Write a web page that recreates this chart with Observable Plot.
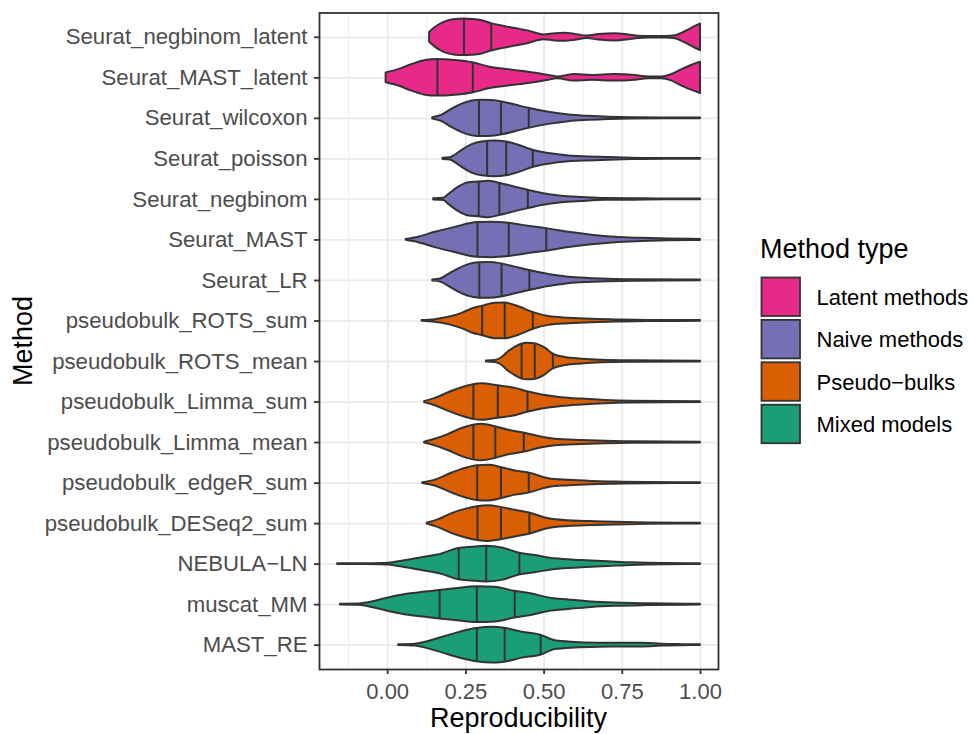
<!DOCTYPE html>
<html><head><meta charset="utf-8">
<script src="https://cdn.jsdelivr.net/npm/d3@7"></script>
<script src="https://cdn.jsdelivr.net/npm/@observablehq/plot@0.6"></script>
<style>
body{margin:0;background:#fff;}
#chart{position:relative;width:974px;height:734px;}
#chart svg{font-family:"Liberation Sans",Arial,sans-serif;}
</style></head><body><div id="chart"></div>
<script>
// Methods, top to bottom
const methods = ["Seurat_negbinom_latent","Seurat_MAST_latent","Seurat_wilcoxon","Seurat_poisson","Seurat_negbinom","Seurat_MAST","Seurat_LR","pseudobulk_ROTS_sum","pseudobulk_ROTS_mean","pseudobulk_Limma_sum","pseudobulk_Limma_mean","pseudobulk_edgeR_sum","pseudobulk_DESeq2_sum","NEBULA\u2212LN","muscat_MM","MAST_RE"];
const methodType = ["Latent methods","Latent methods","Naive methods","Naive methods","Naive methods","Naive methods","Naive methods","Pseudo\u2212bulks","Pseudo\u2212bulks","Pseudo\u2212bulks","Pseudo\u2212bulks","Pseudo\u2212bulks","Pseudo\u2212bulks","Mixed models","Mixed models","Mixed models"];
const typeNames = ["Latent methods","Naive methods","Pseudo\u2212bulks","Mixed models"];
const typeColors = ["#E7298A","#7570B3","#D95F02","#1B9E77"];
const xTicks = [0, 0.25, 0.5, 0.75, 1];
const xMinorTicks = [-0.125, 0.125, 0.375, 0.625, 0.875];

// Violin density profiles: [reproducibility, relative density]
const dens_Seurat_negbinom_latent = [[0.134,0.27],[0.153,0.55],[0.174,0.77],[0.195,0.91],[0.217,0.98],[0.244,1.0],[0.270,0.98],[0.302,0.91],[0.331,0.75],[0.366,0.62],[0.408,0.48],[0.451,0.34],[0.483,0.18],[0.499,0.13],[0.536,0.2],[0.568,0.22],[0.600,0.16],[0.638,0.07],[0.675,0.15],[0.728,0.2],[0.771,0.13],[0.803,0.06],[0.835,0.04],[0.888,0.04],[0.920,0.08],[0.941,0.22],[0.962,0.4],[0.984,0.6],[1.0,0.73]];
const dens_Seurat_MAST_latent = [[-0.005,0.27],[0.035,0.45],[0.078,0.73],[0.121,0.95],[0.159,1.0],[0.216,0.95],[0.272,0.83],[0.323,0.6],[0.387,0.45],[0.451,0.31],[0.515,0.13],[0.542,0.05],[0.600,0.18],[0.653,0.13],[0.728,0.18],[0.792,0.13],[0.835,0.05],[0.877,0.05],[0.909,0.18],[0.941,0.45],[0.973,0.69],[1.0,0.86]];
const dens_Seurat_wilcoxon = [[0.144,0.03],[0.174,0.18],[0.206,0.51],[0.238,0.78],[0.270,0.95],[0.302,1.0],[0.334,0.98],[0.366,0.9],[0.408,0.73],[0.451,0.55],[0.515,0.33],[0.579,0.18],[0.643,0.11],[0.707,0.06],[0.781,0.03],[0.888,0.02],[1.0,0.02]];
const dens_Seurat_poisson = [[0.177,0.03],[0.2,0.06],[0.216,0.2],[0.238,0.47],[0.270,0.78],[0.302,0.93],[0.344,0.98],[0.379,0.93],[0.419,0.75],[0.464,0.47],[0.515,0.29],[0.579,0.16],[0.643,0.11],[0.707,0.07],[0.781,0.04],[0.888,0.02],[1.0,0.02]];
const dens_Seurat_negbinom = [[0.147,0.03],[0.179,0.06],[0.195,0.27],[0.227,0.67],[0.259,0.91],[0.291,0.95],[0.323,1.0],[0.357,0.89],[0.408,0.67],[0.448,0.51],[0.494,0.33],[0.557,0.18],[0.621,0.11],[0.696,0.05],[0.781,0.04],[0.888,0.02],[1.0,0.02]];
const dens_Seurat_MAST = [[0.059,0.02],[0.099,0.15],[0.152,0.42],[0.216,0.69],[0.287,0.95],[0.334,0.97],[0.387,0.91],[0.451,0.75],[0.507,0.62],[0.579,0.42],[0.653,0.26],[0.728,0.15],[0.813,0.09],[0.899,0.05],[1.0,0.03]];
const dens_Seurat_LR = [[0.144,0.03],[0.169,0.08],[0.195,0.33],[0.227,0.64],[0.259,0.87],[0.293,0.97],[0.323,0.98],[0.364,0.91],[0.408,0.73],[0.453,0.55],[0.515,0.33],[0.579,0.18],[0.643,0.11],[0.707,0.07],[0.781,0.04],[1.0,0.02]];
const dens_pseudobulk_ROTS_sum = [[0.110,0.02],[0.152,0.07],[0.195,0.2],[0.238,0.42],[0.270,0.66],[0.302,0.8],[0.344,0.97],[0.374,0.98],[0.419,0.78],[0.464,0.47],[0.515,0.24],[0.579,0.15],[0.653,0.09],[0.728,0.06],[0.835,0.03],[1.0,0.02]];
const dens_pseudobulk_ROTS_mean = [[0.316,0.03],[0.344,0.06],[0.366,0.22],[0.387,0.55],[0.408,0.78],[0.428,0.95],[0.446,1.0],[0.470,0.98],[0.504,0.73],[0.528,0.42],[0.568,0.22],[0.621,0.13],[0.685,0.07],[0.781,0.04],[1.0,0.02]];
const dens_pseudobulk_Limma_sum = [[0.118,0.02],[0.152,0.2],[0.195,0.51],[0.238,0.78],[0.274,0.95],[0.302,1.0],[0.352,0.89],[0.408,0.75],[0.447,0.56],[0.494,0.38],[0.557,0.24],[0.621,0.16],[0.696,0.09],[0.781,0.05],[1.0,0.02]];
const dens_pseudobulk_Limma_mean = [[0.118,0.02],[0.152,0.18],[0.195,0.45],[0.238,0.77],[0.274,0.95],[0.302,1.0],[0.344,0.87],[0.387,0.67],[0.435,0.53],[0.483,0.33],[0.536,0.18],[0.621,0.11],[0.696,0.07],[0.781,0.04],[1.0,0.02]];
const dens_pseudobulk_edgeR_sum = [[0.112,0.02],[0.152,0.16],[0.195,0.47],[0.238,0.75],[0.286,0.95],[0.323,0.98],[0.362,0.86],[0.408,0.66],[0.451,0.55],[0.515,0.24],[0.579,0.15],[0.653,0.09],[0.728,0.06],[0.835,0.03],[1.0,0.02]];
const dens_pseudobulk_DESeq2_sum = [[0.126,0.02],[0.163,0.22],[0.206,0.55],[0.248,0.78],[0.287,0.93],[0.323,0.98],[0.362,0.89],[0.408,0.73],[0.453,0.58],[0.515,0.27],[0.579,0.16],[0.653,0.11],[0.728,0.07],[0.835,0.04],[1.0,0.02]];
const dens_NEBULA_LN = [[-0.160,0.02],[-0.071,0.02],[-0.018,0.03],[0.003,0.05],[0.046,0.16],[0.110,0.35],[0.174,0.56],[0.227,0.86],[0.270,0.93],[0.315,0.98],[0.366,0.89],[0.421,0.6],[0.472,0.47],[0.536,0.29],[0.621,0.2],[0.707,0.13],[0.781,0.07],[0.888,0.03],[1.0,0.02]];
const dens_muscat_MM = [[-0.151,0.02],[-0.093,0.03],[-0.061,0.11],[0.003,0.37],[0.067,0.58],[0.121,0.69],[0.166,0.78],[0.216,0.87],[0.285,0.98],[0.344,0.95],[0.406,0.73],[0.462,0.58],[0.515,0.37],[0.579,0.26],[0.653,0.15],[0.728,0.09],[0.835,0.05],[1.0,0.02]];
const dens_MAST_RE = [[0.035,0.02],[0.088,0.05],[0.121,0.16],[0.174,0.42],[0.227,0.69],[0.285,0.91],[0.334,0.98],[0.374,0.93],[0.430,0.71],[0.489,0.55],[0.536,0.24],[0.600,0.15],[0.675,0.11],[0.749,0.1],[0.813,0.1],[0.877,0.05],[0.941,0.03],[1.0,0.02]];

// Quantile lines drawn inside each violin
const quartiles = [[0.244,0.331],[0.159,0.272],[0.292,0.362,0.451],[0.318,0.379,0.464],[0.291,0.357,0.448],[0.287,0.387,0.507],[0.293,0.364,0.453],[0.302,0.374,0.464],[0.428,0.470,0.528],[0.274,0.352,0.447],[0.274,0.344,0.435],[0.286,0.362,0.451],[0.287,0.362,0.453],[0.227,0.315,0.421],[0.166,0.285,0.406],[0.285,0.374,0.489]];

const profiles = [dens_Seurat_negbinom_latent,dens_Seurat_MAST_latent,dens_Seurat_wilcoxon,dens_Seurat_poisson,dens_Seurat_negbinom,dens_Seurat_MAST,dens_Seurat_LR,dens_pseudobulk_ROTS_sum,dens_pseudobulk_ROTS_mean,dens_pseudobulk_Limma_sum,dens_pseudobulk_Limma_mean,dens_pseudobulk_edgeR_sum,dens_pseudobulk_DESeq2_sum,dens_NEBULA_LN,dens_muscat_MM,dens_MAST_RE];

const HALF = 0.45;
const areaRows = profiles.flatMap((p, i) => p.map(([x, d]) => ({i, method: methods[i], type: methodType[i], x, d})));
function densAt(p, q) {
  for (let k = 1; k < p.length; k++) {
    if (q <= p[k][0]) { const [x0, d0] = p[k-1], [x1, d1] = p[k]; return d0 + (d1 - d0) * (q - x0) / (x1 - x0); }
  }
  return p[p.length - 1][1];
}
const qRows = quartiles.flatMap((qs, i) => qs.map(q => ({i, q, d: densAt(profiles[i], q)})));
const rowIdx = methods.map((m, i) => i);

const W = 974, H = 734;
const plot = Plot.plot({
  width: W, height: H,
  marginLeft: 319, marginRight: 256, marginTop: 12.5, marginBottom: 65,
  style: {fontFamily: "Liberation Sans, Arial, sans-serif", background: "#fff"},
  x: {domain: [-0.218, 1.0576]},
  y: {domain: [15.6, -0.6]},
  color: {domain: typeNames, range: typeColors},
  marks: [
    Plot.gridX(xMinorTicks, {stroke: "#EBEBEB", strokeOpacity: 1, strokeWidth: 0.9}),
    Plot.gridX(xTicks, {stroke: "#EBEBEB", strokeOpacity: 1, strokeWidth: 1.8}),
    Plot.gridY(rowIdx, {stroke: "#EBEBEB", strokeOpacity: 1, strokeWidth: 1.8}),
    Plot.areaY(areaRows, {x: "x", y1: r => r.i - HALF * r.d, y2: r => r.i + HALF * r.d, z: "method", fill: "type", fillOpacity: 1, stroke: "#333333", strokeWidth: 2, strokeLinejoin: "round", curve: "monotone-x"}),
    Plot.ruleX(qRows, {x: "q", y1: r => r.i - HALF * r.d, y2: r => r.i + HALF * r.d, stroke: "#333333", strokeWidth: 2}),
    Plot.frame({stroke: "#333333", strokeWidth: 1.8}),
    Plot.axisX(xTicks, {tickFormat: d3.format(".2f"), tickSize: 5, tickPadding: 9, stroke: "#333333", strokeWidth: 1.8, fill: "#4D4D4D", fontSize: 22, label: null}),
    Plot.axisY(rowIdx, {tickFormat: i => methods[i], tickSize: 5, tickPadding: 7, stroke: "#333333", strokeWidth: 1.8, fill: "#4D4D4D", fontSize: 22.2, label: null})
  ]
});
document.getElementById("chart").appendChild(plot);

const svg = d3.select(plot);
const ff = "Liberation Sans, Arial, sans-serif";
svg.append("text").attr("x", 518.5).attr("y", 727).attr("text-anchor", "middle")
  .attr("font-size", 27).attr("font-family", ff).attr("fill", "#000").text("Reproducibility");
svg.append("text").attr("transform", "translate(31.5,341) rotate(-90)").attr("text-anchor", "middle")
  .attr("font-size", 27).attr("font-family", ff).attr("fill", "#000").text("Method");

// Legend
const lg = svg.append("g").attr("text-anchor", "start");
lg.append("text").attr("x", 760).attr("y", 258).attr("text-anchor", "start").attr("font-size", 27).attr("font-family", ff).attr("fill", "#000").text("Method type");
typeNames.forEach((t, k) => {
  const y0 = 277.5 + k * 42.4;
  lg.append("rect").attr("x", 761.5).attr("y", y0).attr("width", 38.5).attr("height", 38.5)
    .attr("fill", typeColors[k]).attr("stroke", "#333333").attr("stroke-width", 1.8);
  lg.append("text").attr("x", 816.5).attr("y", y0 + 19.5).attr("dy", "0.35em").attr("text-anchor", "start").attr("font-size", 22)
    .attr("font-family", ff).attr("fill", "#000").text(t);
});
</script></body></html>
